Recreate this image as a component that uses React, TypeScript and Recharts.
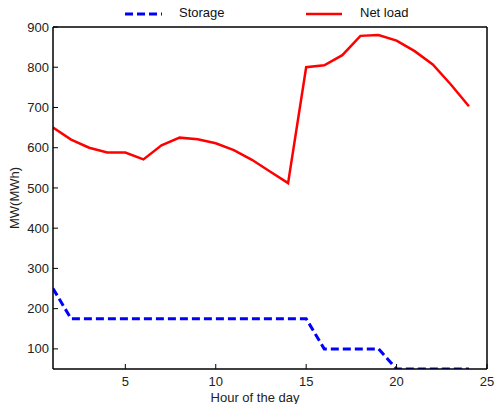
import { LineChart, Line, XAxis, YAxis } from 'recharts';

const hours = [1, 2, 3, 4, 5, 6, 7, 8, 9, 10, 11, 12, 13, 14, 15, 16, 17, 18, 19, 20, 21, 22, 23, 24];
const netLoad = [650, 620, 600, 588, 588, 571, 606, 625, 621, 611, 594, 570, 541, 512, 800, 805, 830, 878, 880, 866, 840, 807, 757, 703];
const storage = [250, 175, 175, 175, 175, 175, 175, 175, 175, 175, 175, 175, 175, 175, 175, 100, 100, 100, 100, 50, 50, 50, 50, 50];
const xTicks = [5, 10, 15, 20, 25];
const yTicks = [100, 200, 300, 400, 500, 600, 700, 800, 900];

const data = hours.map((h, i) => ({ hour: h, storage: storage[i], netLoad: netLoad[i] }));

const font = '"Liberation Sans", Arial, sans-serif';
const tickStyle = { fontSize: 13, fill: '#222', fontFamily: font };
const axisStroke = { stroke: '#000', strokeWidth: 1.5 };

function LegendBox() {
  return (
    <div style={{ position: 'absolute', left: 0, top: 5, width: 496, height: 22, fontFamily: font, fontSize: 13, color: '#111' }}>
      <svg style={{ position: 'absolute', left: 125, top: 6 }} width={37} height={6}>
        <line x1={0} y1={3} x2={37} y2={3} stroke="#0000ff" strokeWidth={3} strokeDasharray="8 4" />
      </svg>
      <span style={{ position: 'absolute', left: 179, top: 0 }}>Storage</span>
      <svg style={{ position: 'absolute', left: 306, top: 6 }} width={36} height={6}>
        <line x1={0} y1={3} x2={36} y2={3} stroke="#ff0000" strokeWidth={2.5} />
      </svg>
      <span style={{ position: 'absolute', left: 360, top: 0 }}>Net load</span>
    </div>
  );
}

export default function App() {
  return (
    <div style={{ position: 'fixed', left: 0, top: 0, width: 496, height: 404, background: '#fff' }}>
      <LineChart width={496} height={404} data={data} margin={{ top: 26, right: 8, left: 0, bottom: 0 }}>
        <XAxis
          xAxisId="bottom"
          dataKey="hour"
          type="number"
          domain={[1, 25]}
          ticks={xTicks}
          allowDataOverflow
          height={35}
          tick={tickStyle}
          tickSize={-5}
          tickMargin={13}
          tickLine={{ stroke: '#000' }}
          axisLine={axisStroke}
          label={({ viewBox }: any) => (
            <text x={viewBox.x + viewBox.width / 2 - 15} y={viewBox.y + 33} textAnchor="middle" fontSize={13} fontFamily={font} fill="#222">
              Hour of the day
            </text>
          )}
        />
        <XAxis
          xAxisId="top"
          orientation="top"
          dataKey="hour"
          type="number"
          domain={[1, 25]}
          ticks={[5, 10, 15, 20]}
          allowDataOverflow
          height={1}
          tick={false}
          tickSize={-5}
          tickLine={{ stroke: '#000' }}
          axisLine={axisStroke}
        />
        <YAxis
          yAxisId="left"
          type="number"
          domain={[50, 900]}
          ticks={yTicks}
          allowDataOverflow
          width={53}
          tick={tickStyle}
          tickSize={-5}
          tickMargin={9}
          tickLine={{ stroke: '#000' }}
          axisLine={axisStroke}
          label={({ viewBox }: any) => (
            <text
              x={14}
              y={viewBox.y + viewBox.height / 2}
              transform={`rotate(-90 14 ${viewBox.y + viewBox.height / 2})`}
              textAnchor="middle"
              dominantBaseline="central"
              fontSize={13}
              fontFamily={font}
              fill="#222"
            >
              MW(MWh)
            </text>
          )}
        />
        <YAxis
          yAxisId="right"
          orientation="right"
          type="number"
          domain={[50, 900]}
          ticks={yTicks}
          allowDataOverflow
          width={1}
          tick={false}
          tickSize={-5}
          tickLine={{ stroke: '#000' }}
          axisLine={axisStroke}
        />
        <Line
          xAxisId="top"
          yAxisId="right"
          dataKey="netLoad"
          stroke="none"
          dot={false}
          legendType="none"
          isAnimationActive={false}
        />
        <Line
          xAxisId="bottom"
          yAxisId="left"
          dataKey="storage"
          name="Storage"
          type="linear"
          stroke="#0000ff"
          strokeWidth={3}
          strokeDasharray="8 4"
          dot={false}
          isAnimationActive={false}
        />
        <Line
          xAxisId="bottom"
          yAxisId="left"
          dataKey="netLoad"
          name="Net load"
          type="linear"
          stroke="#ff0000"
          strokeWidth={2.5}
          dot={false}
          isAnimationActive={false}
        />
      </LineChart>
      <LegendBox />
    </div>
  );
}
